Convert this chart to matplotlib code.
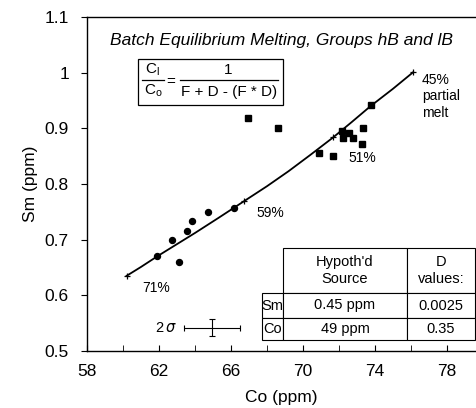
import matplotlib
matplotlib.use("Agg")
import matplotlib.pyplot as plt
from matplotlib.patches import Rectangle

plt.rcParams['font.family'] = ['Liberation Sans', 'DejaVu Sans']

# model curve (Co, Sm)
curve_co = [60.2, 61.0, 61.9, 63.0, 64.0, 65.3, 66.72, 68.0, 69.2, 70.4,
            71.65, 72.7, 73.76, 75.0, 76.13]
curve_sm = [0.635, 0.651, 0.670, 0.692, 0.712, 0.739, 0.769, 0.796, 0.823, 0.852,
            0.883, 0.911, 0.940, 0.971, 1.001]

# melt-fraction ticks on the curve
melt_co = [60.2, 66.72, 71.65, 76.13]
melt_sm = [0.635, 0.769, 0.884, 1.001]
melt_lbl = ["71%", "59%", "51%", "45%\npartial\nmelt"]
melt_lbl_xy = [(61.05, 0.626), (67.44, 0.760), (72.5, 0.859), (76.6, 0.999)]

# group lB (circles)
circ_co = [61.91, 63.11, 62.74, 63.57, 63.85, 64.70, 66.17]
circ_sm = [0.671, 0.660, 0.699, 0.716, 0.734, 0.749, 0.756]

# group hB (squares)
sq_co = [66.96, 68.63, 70.90, 71.65, 72.15, 72.56, 72.24, 72.80, 73.35, 73.30, 73.76]
sq_sm = [0.918, 0.900, 0.855, 0.851, 0.895, 0.892, 0.883, 0.883, 0.900, 0.872, 0.942]

# 2 sigma error
err_co, err_sm = 64.96, 0.542
err_x, err_y = 1.55, 0.0156

table_rows = [["", "Hypoth'd\nSource", "D\nvalues:"],
              ["Sm", "0.45 ppm", "0.0025"],
              ["Co", "49 ppm", "0.35"]]

fig = plt.figure(figsize=(4.76, 4.08), dpi=100)
ax = fig.add_axes([87/476, 1 - 351/408, 388/476, 334/408])

ax.plot(curve_co, curve_sm, color='black', lw=1.3, zorder=2)
ax.plot(melt_co, melt_sm, '+', color='black', ms=5, mew=0.9, zorder=3)
for (x, y), s in zip(melt_lbl_xy, melt_lbl):
    ax.text(x, y, s, fontsize=10, va='top', ha='left')

ax.plot(circ_co, circ_sm, 'o', color='black', ms=4.3, zorder=3)
ax.plot(sq_co, sq_sm, 's', color='black', ms=4.2, zorder=3)

ax.errorbar(err_co, err_sm, xerr=err_x, yerr=err_y, color='black',
            lw=0.8, capsize=2.5, capthick=0.8)
ax.text(err_co - err_x - 0.4, err_sm, r"2$\,\sigma$", fontsize=10.5,
        ha='right', va='center')

ax.set_xlim(58, 79.56)
ax.set_ylim(0.5, 1.1)
ax.set_xticks([58, 62, 66, 70, 74, 78])
ax.set_xticks([60, 64, 68, 72, 76], minor=True)
ax.set_yticks([0.5, 0.6, 0.7, 0.8, 0.9, 1.0, 1.1])
ax.set_yticklabels(["0.5", "0.6", "0.7", "0.8", "0.9", "1", "1.1"])
ax.tick_params(axis='x', direction='in', which='both', length=4, labelsize=12.5, pad=9)
ax.tick_params(axis='y', direction='out', length=4, labelsize=12.5, pad=9)
ax.spines['right'].set_visible(False)
for s in ['left', 'bottom', 'top']:
    ax.spines[s].set_linewidth(1.0)
ax.set_xlabel("Co (ppm)", fontsize=12.5, labelpad=8)
ax.set_ylabel("Sm (ppm)", fontsize=12.5, labelpad=5)

ax.text(0.5, 0.93, "Batch Equilibrium Melting, Groups hB and lB",
        transform=ax.transAxes, ha='center', va='center', fontsize=12.5,
        style='italic')

# equation box (pixel positions turned into axes fractions)
def px(x, y):
    return (x - 87) / 388, (351 - y) / 334

ax.add_patch(Rectangle(px(138, 105), 145/388, 46/334,
                       transform=ax.transAxes, fill=False, lw=0.9, color='black'))
eq = dict(transform=ax.transAxes, ha='center', va='center', fontsize=11)
ax.text(*px(152, 70), r"C$_\mathregular{l}$", **eq)
ax.text(*px(153, 91), r"C$_\mathregular{o}$", **eq)
ax.plot(*zip(px(142, 80), px(164, 80)), transform=ax.transAxes, color='black', lw=0.9)
ax.text(*px(171, 82), "=", **eq)
ax.text(*px(228, 70), "1", **eq)
ax.plot(*zip(px(180, 80), px(278, 80)), transform=ax.transAxes, color='black', lw=0.9)
ax.text(*px(229, 92), "F + D - (F * D)", **eq)

tb = ax.table(cellText=table_rows, cellLoc='center',
              colWidths=[0.101, 0.579, 0.320],
              bbox=[(261.7-87)/388, (351-340)/334, (475-261.7)/388, 92/334])
tb.auto_set_font_size(False)
row_h = [0.49, 0.27, 0.24]
for (r, c), cell in tb.get_celld().items():
    cell.set_height(row_h[r])
    cell.set_linewidth(0.8)
    cell.get_text().set_fontsize(10.5)
    if r == 0 and c == 0:
        cell.visible_edges = ''

fig.savefig("out.png", dpi=100)
